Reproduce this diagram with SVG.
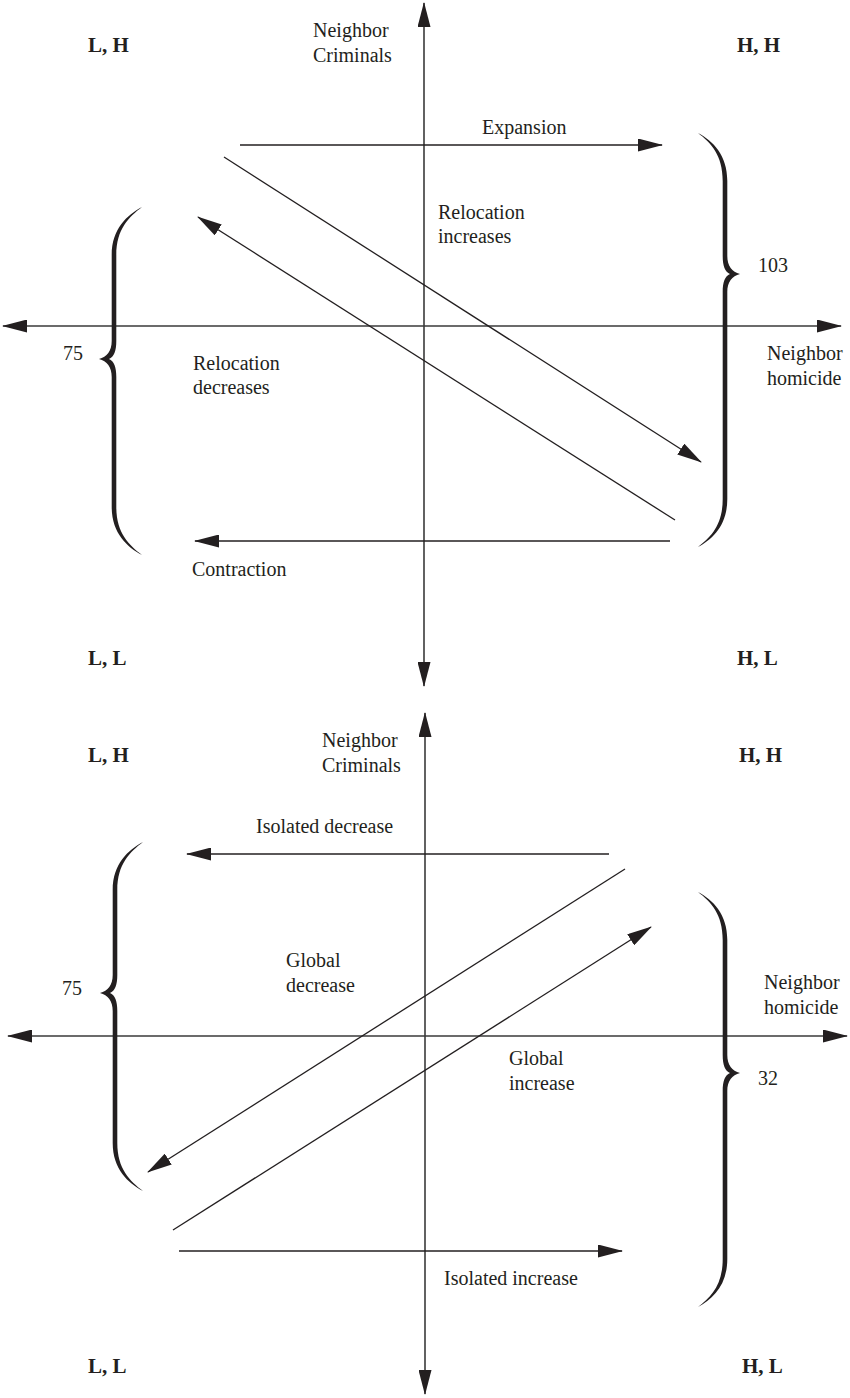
<svg xmlns="http://www.w3.org/2000/svg" width="850" height="1398" viewBox="0 0 850 1398">
<style>
  .t { font-family: "Liberation Serif", "Times New Roman", serif; font-size: 20px; fill: #231f20; }
  .b { font-family: "Liberation Serif", "Times New Roman", serif; font-size: 21px; font-weight: bold; fill: #231f20; }
  .axis { stroke: #3a3a3a; stroke-width: 1.6; fill: none; }
  .arr { stroke: #231f20; stroke-width: 1.3; fill: none; }
  .brace { fill: #231f20; stroke: none; }
</style>
<defs>
  <marker id="ah" viewBox="0 0 25 13" refX="24" refY="6.5" markerWidth="25" markerHeight="13" markerUnits="userSpaceOnUse" orient="auto-start-reverse">
    <path d="M0,0 L25,6.5 L0,13 Z" fill="#231f20"/>
  </marker>
</defs>

<!-- ================= TOP PANEL ================= -->
<g id="top-axes">
  <line class="axis" x1="424" y1="686" x2="424" y2="3" marker-start="url(#ah)" marker-end="url(#ah)"/>
  <line class="axis" x1="3" y1="326" x2="841" y2="326" marker-start="url(#ah)" marker-end="url(#ah)"/>
</g>
<g id="top-connectors">
  <line class="arr" x1="240" y1="145" x2="662" y2="145" marker-end="url(#ah)"/>
  <line class="arr" x1="224" y1="157" x2="701" y2="462" marker-end="url(#ah)"/>
  <line class="arr" x1="675" y1="520" x2="198" y2="217" marker-end="url(#ah)"/>
  <line class="arr" x1="670" y1="541" x2="195" y2="541" marker-end="url(#ah)"/>
</g>
<g id="top-brace-right" transform="translate(725,274)">
  <path class="brace" d="M-27,-141 C-12,-133 2.3,-119 2.3,-93 L2.3,-18 C2.3,-8 7,-2 15,0 C7,2 2.3,8 2.3,18 L2.3,225 C2.3,251 -12,265 -27,273 C-14,263 -2.3,251 -2.3,225 L-2.3,18 C-2.3,8 0,2 5,0 C0,-2 -2.3,-8 -2.3,-18 L-2.3,-93 C-2.3,-119 -14,-131 -27,-141 Z"/>
</g>
<g id="top-brace-left" transform="translate(114,359) scale(-1,1)">
  <path class="brace" d="M-28,-152 C-13,-144 2.3,-130 2.3,-104 L2.3,-18 C2.3,-8 7,-2 15,0 C7,2 2.3,8 2.3,18 L2.3,148 C2.3,174 -13,188 -28,196 C-15,186 -2.3,174 -2.3,148 L-2.3,18 C-2.3,8 0,2 5,0 C0,-2 -2.3,-8 -2.3,-18 L-2.3,-104 C-2.3,-130 -15,-142 -28,-152 Z"/>
</g>
<g id="top-labels">
  <text class="b" x="88" y="52">L, H</text>
  <text class="b" x="737" y="52">H, H</text>
  <text class="b" x="88" y="665">L, L</text>
  <text class="b" x="737" y="665">H, L</text>
  <text class="t" x="313" y="37">Neighbor</text>
  <text class="t" x="313" y="62">Criminals</text>
  <text class="t" x="767" y="360">Neighbor</text>
  <text class="t" x="767" y="385">homicide</text>
  <text class="t" x="482" y="134">Expansion</text>
  <text class="t" x="438" y="219">Relocation</text>
  <text class="t" x="438" y="243">increases</text>
  <text class="t" x="193" y="370">Relocation</text>
  <text class="t" x="193" y="394">decreases</text>
  <text class="t" x="192" y="576">Contraction</text>
  <text class="t" x="758" y="272">103</text>
  <text class="t" x="63" y="360">75</text>
</g>

<!-- ================= BOTTOM PANEL ================= -->
<g id="bottom-axes">
  <line class="axis" x1="425" y1="1394" x2="425" y2="713" marker-start="url(#ah)" marker-end="url(#ah)"/>
  <line class="axis" x1="8" y1="1036" x2="847" y2="1036" marker-start="url(#ah)" marker-end="url(#ah)"/>
</g>
<g id="bottom-connectors">
  <line class="arr" x1="609" y1="854" x2="187" y2="854" marker-end="url(#ah)"/>
  <line class="arr" x1="625" y1="869" x2="148" y2="1172" marker-end="url(#ah)"/>
  <line class="arr" x1="173" y1="1230" x2="651" y2="927" marker-end="url(#ah)"/>
  <line class="arr" x1="179" y1="1251" x2="622" y2="1251" marker-end="url(#ah)"/>
</g>
<g id="bottom-brace-right" transform="translate(725,1073)">
  <path class="brace" d="M-27,-181 C-12,-173 2.3,-159 2.3,-133 L2.3,-18 C2.3,-8 7,-2 15,0 C7,2 2.3,8 2.3,18 L2.3,186 C2.3,212 -12,226 -27,234 C-14,224 -2.3,212 -2.3,186 L-2.3,18 C-2.3,8 0,2 5,0 C0,-2 -2.3,-8 -2.3,-18 L-2.3,-133 C-2.3,-159 -14,-171 -27,-181 Z"/>
</g>
<g id="bottom-brace-left" transform="translate(115,993) scale(-1,1)">
  <path class="brace" d="M-28,-151 C-13,-143 2.3,-129 2.3,-103 L2.3,-18 C2.3,-8 7,-2 15,0 C7,2 2.3,8 2.3,18 L2.3,150 C2.3,176 -13,190 -28,198 C-15,188 -2.3,176 -2.3,150 L-2.3,18 C-2.3,8 0,2 5,0 C0,-2 -2.3,-8 -2.3,-18 L-2.3,-103 C-2.3,-129 -15,-141 -28,-151 Z"/>
</g>
<g id="bottom-labels">
  <text class="b" x="88" y="762">L, H</text>
  <text class="b" x="739" y="762">H, H</text>
  <text class="b" x="88" y="1373">L, L</text>
  <text class="b" x="742" y="1373">H, L</text>
  <text class="t" x="322" y="747">Neighbor</text>
  <text class="t" x="322" y="772">Criminals</text>
  <text class="t" x="764" y="989">Neighbor</text>
  <text class="t" x="764" y="1014">homicide</text>
  <text class="t" x="256" y="833">Isolated decrease</text>
  <text class="t" x="286" y="967">Global</text>
  <text class="t" x="286" y="992">decrease</text>
  <text class="t" x="509" y="1065">Global</text>
  <text class="t" x="509" y="1090">increase</text>
  <text class="t" x="444" y="1285">Isolated increase</text>
  <text class="t" x="758" y="1085">32</text>
  <text class="t" x="62" y="995">75</text>
</g>
</svg>
